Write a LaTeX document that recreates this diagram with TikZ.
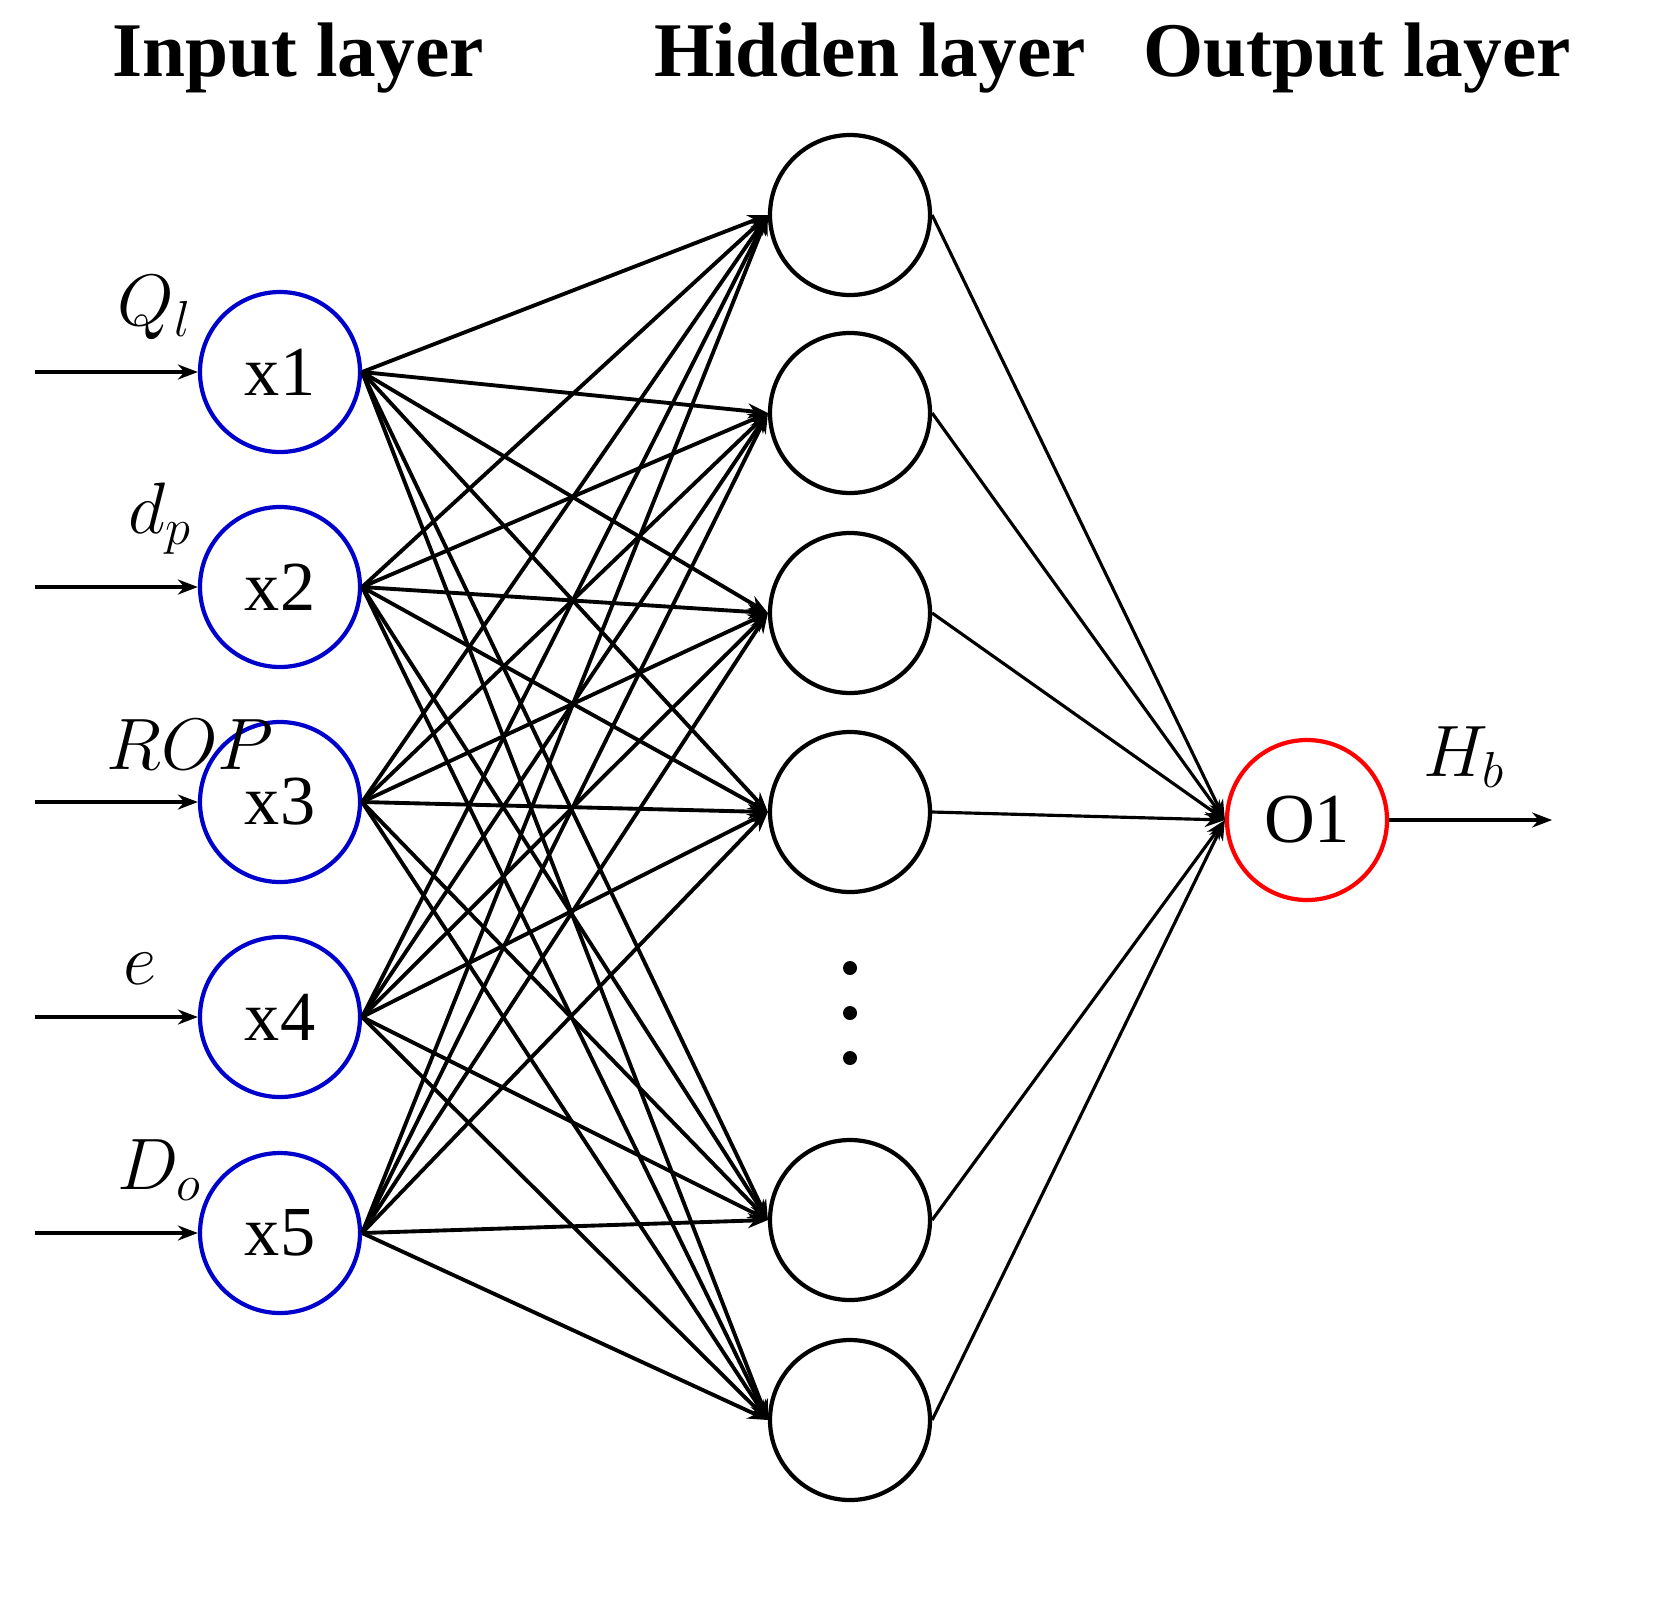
\documentclass[tikz,border=0pt]{standalone}
\usepackage{fontspec}
\setmainfont{Liberation Serif}
\usetikzlibrary{arrows.meta,positioning,calc}
\tikzset{
  >=Stealth,
  every node/.append style={font=\fontsize{20}{24}\selectfont},
}
\begin{document}
\begin{tikzpicture}[
  neuron/.style={draw, circle, line width=1.2pt, minimum size=1.6cm, inner sep=0pt},
  innode/.style={neuron, draw=blue!80!black},
  outnode/.style={neuron, draw=red},
  arr/.style={-{Stealth[length=2mm]}, line width=1.1pt},
  title/.style={font=\fontsize{22}{26}\selectfont\bfseries}
]
\useasboundingbox (0,0) rectangle (16.63,-16.19);

% Titles
\node[title] at (2.98,-0.58) {Input layer};
\node[title] at (8.70,-0.58) {Hidden layer};
\node[title] at (13.57,-0.58) {Output layer};

% Input layer
\foreach \i/\y in {1/-3.72,2/-5.87,3/-8.02,4/-10.17,5/-12.33}
  \node[innode] (x\i) at (2.80,\y) {x\i};

% Hidden layer
\foreach \j/\y in {1/-2.15,2/-4.13,3/-6.13,4/-8.12,5/-12.20,6/-14.20}
  \node[neuron] (h\j) at (8.50,\y) {};
\foreach \y in {-9.68,-10.13,-10.58}
  \fill (8.50,\y) circle (0.07);

% Output layer
\node[outnode] (o1) at (13.07,-8.20) {O1};

% Inputs
\foreach \i/\lab/\dx in {1/Q_l/1.20,2/d_p/1.25,3/ROP/1.55,4/e/1.05,5/D_o/1.25}{
  \coordinate (s\i) at ([xshift=-1.63cm]x\i.west);
  \draw[arr] (s\i) -- (x\i.west);
  \node[above=0.2cm] at ($(s\i)+(\dx,0)$) {$\lab$};
}

% Input to hidden
\foreach \i in {1,...,5}
  \foreach \j in {1,...,6}
    \draw[arr] (x\i.east) -- (h\j.west);

% Hidden to output
\foreach \j in {1,...,6}
  \draw[arr, line width=0.9pt] (h\j.east) -- (o1.west);

% Output
\coordinate (t1) at ([xshift=1.63cm]o1.east);
\draw[arr] (o1.east) -- (t1);
\node[above=0.2cm] at ($(o1.east)+(0.75,0)$) {$H_b$};
\end{tikzpicture}
\end{document}
